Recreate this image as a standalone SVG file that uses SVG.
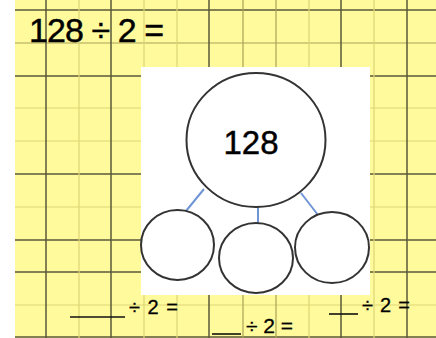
<svg xmlns="http://www.w3.org/2000/svg" width="436" height="338" viewBox="0 0 436 338">
<style>
.dk{stroke:#5a5838;stroke-width:1.5}
.md{stroke:#a9a258;stroke-width:1.2}
.lt{stroke:#ddd575;stroke-width:1.2}
.node{fill:#fff;stroke:#333;stroke-width:2}
.conn{stroke:#6f95d6;stroke-width:2;fill:none}
.t{font-family:"Liberation Sans",Arial,sans-serif;fill:#000}
.b{stroke:#000;stroke-width:0.45}
.s{stroke:#000;stroke-width:0.3}
.ul{stroke:#111;stroke-width:1.6}
</style>
<rect x="0" y="0" width="436" height="338" fill="#fff"/>
<rect x="15" y="0" width="421" height="338" fill="#fffa9c"/>
<g id="grid">
<line class="dk" x1="15" y1="10" x2="436" y2="10"/>
<line class="md" x1="15" y1="43" x2="436" y2="43"/>
<line class="dk" x1="15" y1="76" x2="436" y2="76"/>
<line class="lt" x1="15" y1="108" x2="436" y2="108"/>
<line class="lt" x1="15" y1="141" x2="436" y2="141"/>
<line class="dk" x1="15" y1="174" x2="436" y2="174"/>
<line class="lt" x1="15" y1="207" x2="436" y2="207"/>
<line class="dk" x1="15" y1="240" x2="436" y2="240"/>
<line class="dk" x1="15" y1="272" x2="436" y2="272"/>
<line class="lt" x1="15" y1="305" x2="436" y2="305"/>
<line class="dk" x1="15" y1="337" x2="436" y2="337"/>
<line class="dk" x1="46" y1="0" x2="46" y2="338"/>
<line class="lt" x1="79" y1="0" x2="79" y2="338"/>
<line class="dk" x1="111" y1="0" x2="111" y2="338"/>
<line class="lt" x1="144" y1="0" x2="144" y2="338"/>
<line class="lt" x1="177" y1="0" x2="177" y2="338"/>
<line class="dk" x1="209" y1="0" x2="209" y2="338"/>
<line class="md" x1="243" y1="0" x2="243" y2="338"/>
<line class="md" x1="276" y1="0" x2="276" y2="338"/>
<line class="lt" x1="309" y1="0" x2="309" y2="338"/>
<line class="dk" x1="341" y1="0" x2="341" y2="338"/>
<line class="lt" x1="374" y1="0" x2="374" y2="338"/>
<line class="dk" x1="407" y1="0" x2="407" y2="338"/>
</g>
<rect x="141" y="67" width="229" height="228" fill="#fff"/>
<text class="t b" x="29" y="42" font-size="34" textLength="135" lengthAdjust="spacing">128 ÷ 2 =</text>
<g id="connectors">
<line class="conn" x1="204" y1="189" x2="186" y2="211"/>
<line class="conn" x1="258" y1="207" x2="258" y2="223"/>
<line class="conn" x1="301" y1="193" x2="318" y2="215"/>
</g>
<g id="n128">
<ellipse class="node" cx="256" cy="140" rx="69.5" ry="67"/>
<text class="t b" x="251" y="154" font-size="33" text-anchor="middle">128</text>
</g>
<g id="nLeft">
<ellipse class="node" cx="177.5" cy="245" rx="36.5" ry="35"/>
</g>
<g id="nMid">
<ellipse class="node" cx="256" cy="258" rx="37" ry="35"/>
</g>
<g id="nRight">
<ellipse class="node" cx="332" cy="247.5" rx="37" ry="35.5"/>
</g>
<g id="labels">
<line class="ul" x1="70" y1="317" x2="125" y2="317"/>
<text class="t s" x="129" y="314" font-size="20" textLength="49" lengthAdjust="spacing">÷ 2 =</text>
<line class="ul" x1="212" y1="334" x2="241" y2="334"/>
<text class="t s" x="246" y="333" font-size="21" textLength="47" lengthAdjust="spacing">÷ 2 =</text>
<line class="ul" x1="329" y1="314" x2="358" y2="314"/>
<text class="t s" x="362" y="312" font-size="20" textLength="48" lengthAdjust="spacing">÷ 2 =</text>
</g>
</svg>
